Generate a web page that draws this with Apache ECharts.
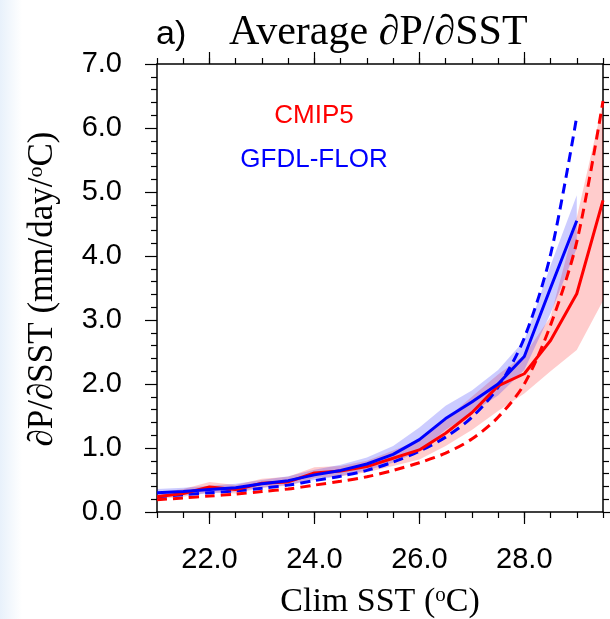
<!DOCTYPE html>
<html>
<head>
<meta charset="utf-8">
<script src="https://cdn.jsdelivr.net/npm/echarts@6/dist/echarts.min.js"></script>
<style>
    html, body { margin: 0; padding: 0; background: #fff; }
    #chart { width: 610px; height: 619px; }
</style>
</head>
<body>
<div id="chart"></div>
<script>
// ============================================
// Average dP/dSST vs climatological SST
// ============================================

// SST bins (degC)
const sstBins = [21.0, 21.5, 22.0, 22.5, 23.0, 23.5, 24.0, 24.5, 25.0, 25.5, 26.0, 26.5, 27.0, 27.5, 28.0, 28.5, 29.0, 29.5];
const florBins = [21.0, 21.5, 22.0, 22.5, 23.0, 23.5, 24.0, 24.5, 25.0, 25.5, 26.0, 26.5, 27.0, 27.5, 28.0, 28.5, 29.0];

// CMIP5 (red)
const cmip5Mean   = [0.24, 0.29, 0.39, 0.35, 0.45, 0.47, 0.61, 0.64, 0.71, 0.84, 0.97, 1.23, 1.55, 1.97, 2.16, 2.68, 3.41, 4.87];
const cmip5Low    = [0.20, 0.24, 0.31, 0.29, 0.38, 0.41, 0.53, 0.56, 0.62, 0.72, 0.82, 1.03, 1.28, 1.58, 1.85, 2.20, 2.53, 3.30];
const cmip5High   = [0.30, 0.36, 0.47, 0.42, 0.52, 0.55, 0.70, 0.72, 0.80, 0.96, 1.12, 1.45, 1.80, 2.15, 2.45, 3.05, 4.60, 6.40];
const cmip5Scaled = [0.19, 0.22, 0.25, 0.28, 0.32, 0.36, 0.42, 0.48, 0.55, 0.65, 0.77, 0.92, 1.14, 1.48, 2.00, 2.92, 4.22, 6.42];

// GFDL-FLOR (blue)
const florMean   = [0.30, 0.32, 0.35, 0.38, 0.44, 0.49, 0.58, 0.65, 0.75, 0.90, 1.13, 1.46, 1.72, 2.00, 2.43, 3.50, 4.55];
const florLow    = [0.24, 0.26, 0.29, 0.32, 0.38, 0.42, 0.50, 0.56, 0.65, 0.77, 0.95, 1.28, 1.55, 1.82, 2.22, 3.10, 4.12];
const florHigh   = [0.36, 0.38, 0.41, 0.44, 0.50, 0.56, 0.66, 0.74, 0.85, 1.03, 1.32, 1.66, 1.90, 2.22, 2.68, 3.85, 4.95];
const florScaled = [0.24, 0.27, 0.30, 0.33, 0.37, 0.42, 0.49, 0.56, 0.65, 0.78, 0.95, 1.17, 1.48, 1.95, 2.72, 4.02, 6.18];

// axis ticks
const xMajorTicks = [22, 24, 26, 28];
const xMinorStep = 0.5;
const yMin = 0, yMax = 7, yStep = 1;
const xMin = 21, xMax = 29.5;

const SANS = '"Liberation Sans", Arial, sans-serif';
const SERIF = '"Liberation Serif", "Times New Roman", serif';

function pairs(xs, ys) {
    return xs.map((x, i) => [x, ys[i]]);
}

// shaded spread band drawn as one polygon through the axis scales
function bandSeries(xs, lo, hi, color) {
    return {
        type: 'custom',
        silent: true,
        clip: true,
        z: 1,
        data: xs.map((x, i) => [x, lo[i], hi[i]]),
        encode: { x: 0, y: [1, 2] },
        renderItem: (params, api) => {
            if (params.dataIndex !== 0) return null;
            const top = xs.map((x, i) => api.coord([x, hi[i]]));
            const bot = xs.map((x, i) => api.coord([x, lo[i]])).reverse();
            return {
                type: 'polygon',
                shape: { points: top.concat(bot) },
                style: { fill: color }
            };
        }
    };
}

function lineSeries(xs, ys, color, dashed, z) {
    return {
        type: 'line',
        data: pairs(xs, ys),
        showSymbol: false,
        silent: true,
        z: z,
        smooth: dashed ? 0.3 : false,
        lineStyle: { color: color, width: 3, type: dashed ? [10, 6] : 'solid' }
    };
}

const axisLineStyle = { color: '#000', width: 1.5 };
const tickStyle = { color: '#000', width: 1.2 };

function xAxisDef(position, major) {
    return {
        type: 'value',
        position: position,
        min: xMin,
        max: xMax,
        interval: major ? undefined : xMinorStep,
        axisLine: { show: major, onZero: false, lineStyle: axisLineStyle },
        axisTick: major
            ? { show: true, length: 12, lineStyle: tickStyle, customValues: xMajorTicks }
            : { show: true, length: 6, lineStyle: tickStyle },
        axisLabel: (major && position === 'bottom')
            ? { show: true, customValues: xMajorTicks, formatter: v => v.toFixed(1),
                fontFamily: SANS, fontSize: 29, color: '#000', margin: 33 }
            : { show: false },
        splitLine: { show: false }
    };
}

function yAxisDef(position) {
    return {
        type: 'value',
        position: position,
        min: yMin,
        max: yMax,
        interval: yStep,
        axisLine: { show: true, onZero: false, lineStyle: axisLineStyle },
        axisTick: { show: true, length: 12, lineStyle: tickStyle },
        minorTick: { show: true, splitNumber: 5, length: 6, lineStyle: tickStyle },
        axisLabel: position === 'left'
            ? { show: true, formatter: v => v.toFixed(1), fontFamily: SANS, fontSize: 29, color: '#000', margin: 35 }
            : { show: false },
        splitLine: { show: false }
    };
}

const chart = echarts.init(document.getElementById('chart'), null, { renderer: 'canvas' });

chart.setOption({
    backgroundColor: '#fff',
    animation: false,
    grid: { left: 157, top: 64, width: 446, height: 448, containLabel: false },
    xAxis: [
        xAxisDef('bottom', true),
        xAxisDef('bottom', false),
        xAxisDef('top', true),
        xAxisDef('top', false)
    ],
    yAxis: [yAxisDef('left'), yAxisDef('right')],
    series: [
        bandSeries(sstBins, cmip5Low, cmip5High, 'rgba(255, 0, 0, 0.2)'),
        bandSeries(florBins, florLow, florHigh, 'rgba(0, 0, 255, 0.2)'),
        lineSeries(sstBins, cmip5Scaled, '#ff0000', true, 3),
        lineSeries(florBins, florScaled, '#0000ff', true, 4),
        lineSeries(sstBins, cmip5Mean, '#ff0000', false, 5),
        lineSeries(florBins, florMean, '#0000ff', false, 6)
    ],
    graphic: [
        {
            type: 'rect', z: -10, silent: true,
            shape: { x: 0, y: 0, width: 22, height: 619 },
            style: {
                fill: new echarts.graphic.LinearGradient(0, 0, 1, 0, [
                    { offset: 0, color: '#e8f1fb' },
                    { offset: 1, color: '#ffffff' }
                ])
            }
        },
        {
            type: 'text', left: 156, top: 18,
            style: { text: 'a)', font: '34px ' + SANS, fill: '#000' }
        },
        {
            type: 'text', left: 229, top: 12,
            style: { text: 'Average ∂P/∂SST', font: '42px ' + SERIF, fill: '#000' }
        },
        {
            type: 'text', x: 43, y: 289, rotation: Math.PI / 2,
            style: {
                text: '∂P/∂SST (mm/day/{s|o}C)',
                fontFamily: SERIF, fontSize: 35, fill: '#000',
                align: 'center', verticalAlign: 'middle',
                rich: { s: { fontFamily: SERIF, fontSize: 22, verticalAlign: 'top', lineHeight: 35 } }
            }
        },
        {
            type: 'text', x: 380, y: 602,
            style: {
                text: 'Clim SST ({s|o}C)',
                fontFamily: SERIF, fontSize: 34, fill: '#000',
                align: 'center', verticalAlign: 'middle',
                rich: { s: { fontFamily: SERIF, fontSize: 21, verticalAlign: 'top', lineHeight: 34 } }
            }
        },
        {
            type: 'text', x: 314, y: 116,
            style: { text: 'CMIP5', font: '26px ' + SANS, fill: '#ff0000', align: 'center', verticalAlign: 'middle' }
        },
        {
            type: 'text', x: 314, y: 160,
            style: { text: 'GFDL-FLOR', font: '26px ' + SANS, fill: '#0000ff', align: 'center', verticalAlign: 'middle' }
        }
    ]
});
</script>
</body>
</html>
